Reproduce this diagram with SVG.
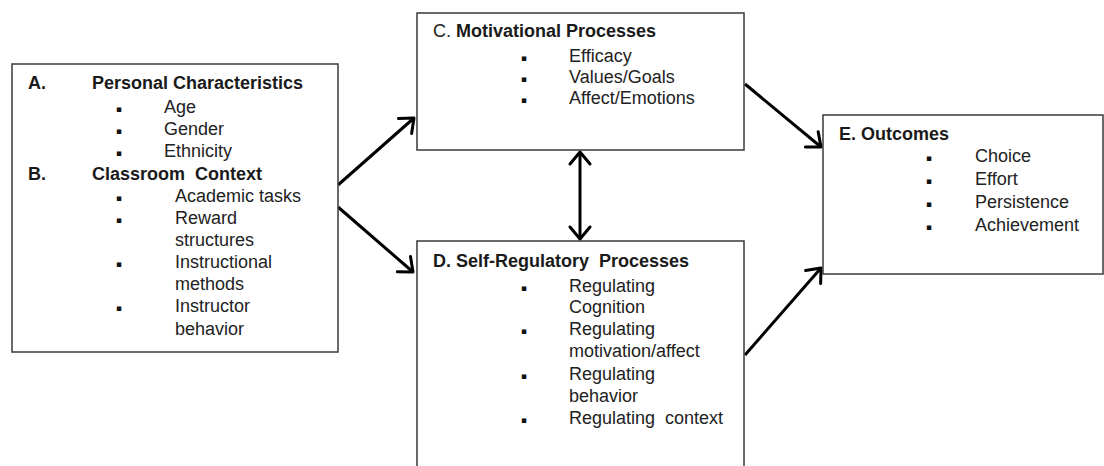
<svg xmlns="http://www.w3.org/2000/svg" width="1104" height="466" viewBox="0 0 1104 466">
<defs>
<style>
.box{fill:#fff;stroke:#3a3a3a;stroke-width:1.5}
text{font-family:"Liberation Sans",Arial,sans-serif;font-size:18px;fill:#222}
.h{font-weight:bold;fill:#1a1a1a}
.bl{font-family:"DejaVu Sans",sans-serif;font-size:9px;fill:#111}
.c{stroke:#000;stroke-width:3;fill:none}
</style>
<marker id="ah" markerUnits="userSpaceOnUse" markerWidth="24" markerHeight="26" refX="14" refY="13" orient="auto-start-reverse">
<path d="M2,3 L14,13 L2,23" fill="none" stroke="#000" stroke-width="3" stroke-linecap="round" stroke-linejoin="round"/>
</marker>
</defs>
<rect width="1104" height="466" fill="#fff"/>

<g id="connectors">
<line class="c" x1="338" y1="185" x2="414" y2="118" marker-end="url(#ah)"/>
<line class="c" x1="338" y1="207" x2="413" y2="272" marker-end="url(#ah)"/>
<line class="c" x1="580" y1="152" x2="580" y2="239" marker-start="url(#ah)" marker-end="url(#ah)"/>
<line class="c" x1="745" y1="84" x2="821" y2="147" marker-end="url(#ah)"/>
<line class="c" x1="745" y1="355" x2="821" y2="268" marker-end="url(#ah)"/>
</g>

<g id="nodeA">
<rect class="box" x="12" y="64" width="326" height="288"/>
<text class="h" x="28" y="89">A.</text>
<text class="h" x="92" y="89">Personal Characteristics</text>
<text class="bl" x="116" y="112">▪</text><text x="164" y="113">Age</text>
<text class="bl" x="116" y="134">▪</text><text x="164" y="135">Gender</text>
<text class="bl" x="116" y="156">▪</text><text x="164" y="157">Ethnicity</text>
<text class="h" x="28" y="180">B.</text>
<text class="h" x="92" y="180" xml:space="preserve">Classroom  Context</text>
<text class="bl" x="116" y="201">▪</text><text x="175" y="202">Academic tasks</text>
<text class="bl" x="116" y="223">▪</text><text x="175" y="224">Reward</text>
<text x="175" y="246">structures</text>
<text class="bl" x="116" y="267">▪</text><text x="175" y="268">Instructional</text>
<text x="175" y="290">methods</text>
<text class="bl" x="116" y="311">▪</text><text x="175" y="312">Instructor</text>
<text x="175" y="335">behavior</text>
</g>

<g id="nodeC">
<rect class="box" x="417" y="13" width="327" height="137"/>
<text x="433" y="37">C. <tspan class="h">Motivational Processes</tspan></text>
<text class="bl" x="521" y="61">▪</text><text x="569" y="62">Efficacy</text>
<text class="bl" x="521" y="82">▪</text><text x="569" y="83">Values/Goals</text>
<text class="bl" x="521" y="103">▪</text><text x="569" y="104">Affect/Emotions</text>
</g>

<g id="nodeD">
<rect class="box" x="417" y="241" width="327" height="240"/>
<text class="h" x="433" y="267" xml:space="preserve">D. Self-Regulatory  Processes</text>
<text class="bl" x="521" y="291">▪</text><text x="569" y="292">Regulating</text>
<text x="569" y="313">Cognition</text>
<text class="bl" x="521" y="334">▪</text><text x="569" y="335">Regulating</text>
<text x="569" y="357">motivation/affect</text>
<text class="bl" x="521" y="379">▪</text><text x="569" y="380">Regulating</text>
<text x="569" y="402">behavior</text>
<text class="bl" x="521" y="423">▪</text><text x="569" y="424" xml:space="preserve">Regulating  context</text>
</g>

<g id="nodeE">
<rect class="box" x="823" y="115" width="280" height="159"/>
<text class="h" x="839" y="140">E. Outcomes</text>
<text class="bl" x="926" y="161">▪</text><text x="975" y="162">Choice</text>
<text class="bl" x="926" y="184">▪</text><text x="975" y="185">Effort</text>
<text class="bl" x="926" y="207">▪</text><text x="975" y="208">Persistence</text>
<text class="bl" x="926" y="230">▪</text><text x="975" y="231">Achievement</text>
</g>
</svg>
